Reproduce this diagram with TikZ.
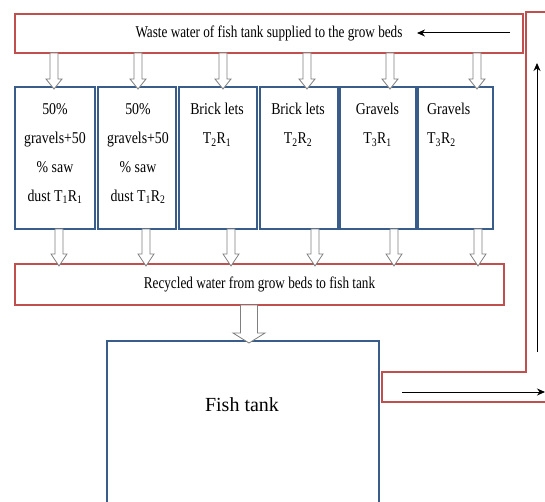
\documentclass[tikz,border=0pt]{standalone}
\usepackage{fontspec}
\setmainfont{Liberation Serif}
\newfontfamily\condfont[FakeStretch=0.8]{Liberation Serif}
\newfontfamily\bedfont[FakeStretch=0.84]{Liberation Serif}
\usetikzlibrary{arrows.meta}
\definecolor{pipered}{HTML}{C0504D}
\definecolor{bedblue}{HTML}{385D8A}
\definecolor{arrgray}{HTML}{7F7F7F}
% x, y of base, y of tip, shaft half width, head half width, head length
\newcommand\blockarrow[6]{%
  \draw[blockarr] (#1-#4,#2) -- (#1-#4,#3-#6) -- (#1-#5,#3-#6) -- (#1,#3)
    -- (#1+#5,#3-#6) -- (#1+#4,#3-#6) -- (#1+#4,#2) -- cycle;}
\begin{document}
\begin{tikzpicture}[x=1pt,y=-1pt,
  pipebox/.style={draw=pipered, line width=2.4pt, fill=white, inner sep=0pt, outer sep=0pt,
    font=\condfont\fontsize{16.5}{18}\selectfont},
  pipe/.style={draw=pipered, line width=2.4pt},
  bedbox/.style={draw=bedblue, line width=1.8pt, fill=white, inner sep=0pt, outer sep=0pt,
    minimum height=142pt},
  bedtext/.style={inner sep=0pt, align=center, font=\bedfont\fontsize{16.5}{29}\selectfont},
  tankbox/.style={draw=bedblue, line width=1.8pt, fill=white, inner sep=0pt, outer sep=0pt},
  tanktext/.style={inner sep=0pt, font=\fontsize{20}{24}\selectfont},
  blockarr/.style={draw=arrgray, line width=0.8pt, fill=white, line join=miter},
  flowarr/.style={line width=1pt, -{Stealth[length=8pt,width=7pt]}}
]
\useasboundingbox (0,0) rectangle (545,502);
\clip (0,0) rectangle (545,502);

% return channel on the right and bottom
\draw[pipe] (550,12) -- (526,12) -- (526,372) -- (382,372) -- (382,402) -- (550,402);

% main boxes
\node[pipebox, minimum width=508pt, minimum height=39pt] (waste) at (269,33.5)
  {Waste water of fish tank supplied to the grow beds};
\node[pipebox, minimum width=489pt, minimum height=41pt] (recycled) at (259.5,284.5)
  {Recycled water from grow beds to fish tank};
\node[tankbox, minimum width=272pt, minimum height=200pt] (tank) at (243,441) {};
\node[tanktext] (tanklabel) at (242,405) {Fish tank};

% grow beds
\node[bedbox, minimum width=80pt] (b1) at (55,158) {};
\node[bedbox, minimum width=78pt] (b2) at (137,158) {};
\node[bedbox, minimum width=78pt] (b3) at (218,158) {};
\node[bedbox, minimum width=78pt] (b4) at (299,158) {};
\node[bedbox, minimum width=76pt] (b5) at (378,158) {};
\node[bedbox, minimum width=75pt] (b6) at (455.5,158) {};

\node[bedtext, anchor=north] (t1) at (55,103)
  {50\%\\gravels+50\\\% saw\\dust T\textsubscript{1}R\textsubscript{1}};
\node[bedtext, anchor=north] (t2) at (138,103)
  {50\%\\gravels+50\\\% saw\\dust T\textsubscript{1}R\textsubscript{2}};
\node[bedtext, anchor=north] (t3) at (217,103)
  {Brick lets\\T\textsubscript{2}R\textsubscript{1}};
\node[bedtext, anchor=north] (t4) at (298,103)
  {Brick lets\\T\textsubscript{2}R\textsubscript{2}};
\node[bedtext, anchor=north] (t5) at (377.5,103)
  {Gravels\\T\textsubscript{3}R\textsubscript{1}};
\node[bedtext, anchor=north west, align=left] (t6) at (427,103)
  {Gravels\\T\textsubscript{3}R\textsubscript{2}};

% hollow block arrows: waste water -> beds
\foreach \x in {54,138,223,307,390,477}{\blockarrow{\x}{53}{89}{4}{8}{10}}
% beds -> recycled water
\foreach \x in {59,146,231,315,394,478}{\blockarrow{\x}{229}{266}{4}{8}{12}}
% recycled water -> fish tank
\blockarrow{249}{305}{343}{8.5}{16}{10}

% flow arrows
\coordinate (w1) at (510,33);
\coordinate (w2) at (417,33);
\draw[flowarr] (w1) -- (w2);
\coordinate (u1) at (537,352);
\coordinate (u2) at (537,63);
\draw[flowarr] (u1) -- (u2);
\coordinate (r1) at (402,392);
\coordinate (r2) at (545,392);
\draw[flowarr] (r1) -- (r2);
\end{tikzpicture}
\end{document}
